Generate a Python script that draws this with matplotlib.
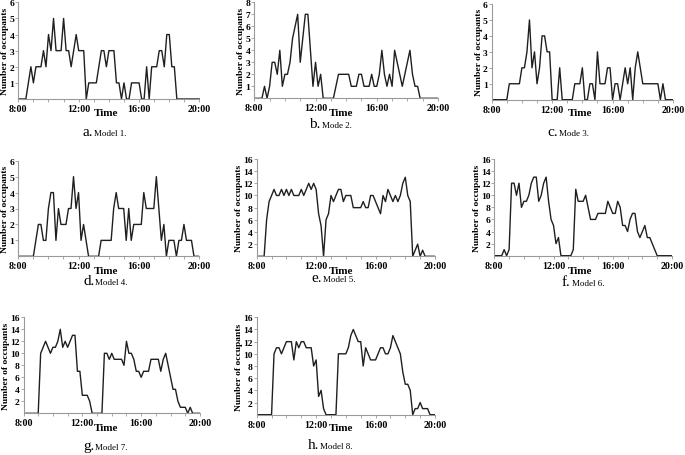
import numpy as np
import matplotlib
matplotlib.use("Agg")
import matplotlib.pyplot as plt

W, H = 685, 456

# occupancy sampled every 10 minutes from 8:00 to 20:00 (73 points)
times = 8 + np.arange(73) / 6

model1 = [0, 0, 0, 0, 1, 2, 1, 2, 2, 2, 3, 2, 4, 3, 5, 3, 3, 3, 5, 3,
          3, 2, 3, 4, 3, 3, 3, 0, 1, 1, 1, 1, 2, 3, 3, 2, 3, 3, 3, 1,
          1, 0, 1, 0, 0, 1, 1, 1, 1, 0, 0, 2, 0, 2, 2, 2, 3, 3, 2, 4,
          4, 2, 2, 0, 0, 0, 0, 0, 0, 0, 0, 0, 0]
model2 = [0, 0, 0, 0, 1, 0, 1, 3, 3, 2, 4, 1, 2, 2, 3, 5, 6, 7, 3, 5,
          7, 7, 4, 1, 3, 1, 2, 0, 0, 0, 0, 0, 1, 2, 2, 2, 2, 2, 1, 1,
          1, 2, 2, 1, 1, 1, 2, 1, 1, 2, 4, 2, 1, 2, 1, 4, 3, 2, 1, 2,
          3, 4, 2, 1, 1, 0, 0, 0, 0, 0, 0, 0, 0]
model3 = [0, 0, 0, 0, 0, 0, 0, 1, 1, 1, 1, 1, 2, 2, 3, 5, 2, 3, 1, 2,
          4, 4, 3, 3, 0, 0, 0, 2, 0, 0, 0, 0, 0, 1, 1, 1, 2, 0, 0, 1,
          1, 0, 3, 1, 1, 1, 2, 2, 0, 1, 1, 0, 1, 2, 1, 2, 0, 2, 3, 2,
          1, 1, 1, 1, 1, 1, 1, 0, 1, 0, 0, 0, 0]
model4 = [0, 0, 0, 0, 0, 0, 0, 1, 2, 2, 1, 1, 3, 4, 4, 1, 3, 2, 2, 2,
          3, 3, 5, 3, 4, 1, 2, 1, 0, 0, 0, 0, 0, 1, 1, 1, 1, 1, 3, 4,
          3, 3, 3, 1, 3, 1, 2, 2, 2, 2, 4, 3, 3, 3, 3, 5, 3, 1, 2, 0,
          1, 1, 1, 0, 1, 1, 2, 1, 1, 1, 0, 0, 0]
model5 = [0, 0, 0, 0, 6, 9, 10, 11, 10, 10, 11, 10, 11, 10, 11, 10, 10, 10, 11, 10,
          11, 12, 11, 12, 11, 7, 5, 0, 6, 7, 10, 9, 10, 11, 11, 9, 10, 10, 10, 8,
          8, 8, 8, 9, 8, 8, 10, 10, 9, 8, 7, 10, 9, 11, 10, 9, 10, 9, 10, 12,
          13, 10, 9, 0, 1, 2, 0, 1, 0, 0, 0, 0, 0]
model6 = [0, 0, 0, 0, 1, 0, 1, 12, 12, 10, 12, 8, 9, 9, 10, 12, 13, 13, 9, 10,
          12, 13, 9, 6, 5, 2, 3, 0, 0, 0, 0, 0, 1, 11, 9, 9, 9, 10, 8, 6,
          6, 6, 7, 7, 7, 7, 9, 8, 7, 7, 9, 8, 5, 5, 4, 6, 7, 7, 4, 3,
          4, 5, 3, 3, 2, 1, 0, 0, 0, 0, 0, 0, 0]
model7 = [0, 0, 0, 0, 0, 0, 0, 10, 11, 12, 11, 10, 11, 11, 12, 14, 11, 12, 11, 12,
          13, 13, 7, 7, 3, 3, 3, 2, 0, 0, 0, 0, 0, 10, 10, 9, 10, 9, 9, 9,
          9, 8, 12, 10, 10, 9, 7, 7, 6, 7, 7, 7, 9, 9, 9, 9, 7, 9, 10, 8,
          6, 4, 4, 2, 1, 1, 1, 0, 1, 0, 0, 0, 0]
model8 = [0, 0, 0, 0, 0, 0, 0, 10, 11, 11, 10, 11, 12, 12, 12, 9, 12, 11, 12, 12,
          11, 11, 11, 8, 9, 3, 4, 1, 0, 0, 0, 0, 0, 10, 10, 10, 10, 11, 13, 14,
          13, 12, 12, 8, 11, 10, 9, 9, 9, 10, 11, 11, 10, 10, 11, 13, 12, 11, 10, 7,
          5, 5, 4, 0, 1, 1, 2, 1, 1, 1, 0, 0, 0]

series = [model1, model2, model3, model4, model5, model6, model7, model8]
letters = ["a", "b", "c", "d", "e", "f", "g", "h"]
names = ["Model 1.", "Mode 2.", "Mode 3.", "Model 4.",
         "Model 5.", "Model 6.", "Model 7.", "Model 8."]
y_max = [6, 8, 6, 6, 16, 16, 16, 16]
y_step = [1, 1, 1, 1, 2, 2, 2, 2]
hour_ticks = list(range(8, 21))
hour_labels = [f"{h}:00" if (h - 8) % 4 == 0 else "" for h in hour_ticks]

# layout in pixels: axes (left, top, right, bottom), "Time" centre, caption split/baseline
boxes = [(18.3, 3.3, 199.5, 100), (254.3, 3.3, 438, 99.3), (491.7, 5, 673, 100.7),
         (18.3, 161.7, 199, 257.3), (256.7, 160, 435, 257.3), (494.3, 160, 672, 256.7),
         (23.5, 318.3, 200, 414.3), (256.7, 318.3, 435, 415.7)]
time_pos = [(106, 114), (341, 114), (580, 114), (106, 271), (341, 271), (580, 271.7),
            (106, 429), (341, 429)]
cap_pos = [(93, 136), (320.7, 128.5), (557.7, 136), (94.3, 285), (322.3, 281.5),
           (570.7, 285.5), (94.3, 450), (319.3, 449.5)]

plt.rcParams["font.family"] = ["Liberation Serif", "DejaVu Serif"]
fig = plt.figure(figsize=(W / 100, H / 100), dpi=100)
axis_grey = "#9a9a9a"

for k in range(8):
    l, t, r, b = boxes[k]
    ax = fig.add_axes([l / W, 1 - b / H, (r - l) / W, (b - t) / H])
    ax.plot(times, series[k], color="#1f1f1f", lw=1.0)
    ax.set_xlim(8, 20)
    ax.set_ylim(0, y_max[k])
    ax.set_xticks(hour_ticks)
    ax.set_xticklabels(hour_labels)
    ax.set_yticks(range(y_step[k], y_max[k] + 1, y_step[k]))
    for side in ["top", "right"]:
        ax.spines[side].set_visible(False)
    for side in ["left", "bottom"]:
        ax.spines[side].set_color(axis_grey)
        ax.spines[side].set_linewidth(0.8)
    ax.tick_params(direction="out", width=0.6, color=axis_grey)
    ax.tick_params(axis="x", labelsize=7.2, length=2.5, pad=1.0)
    ax.tick_params(axis="y", labelsize=6.8, length=2.0, pad=0.8)
    for lbl in ax.get_xticklabels() + ax.get_yticklabels():
        lbl.set_fontweight("bold")
    ax.set_ylabel("Number of occupants", fontsize=6.8, fontweight="bold")
    gap = 9.0 if y_max[k] < 10 else 13.3
    ax.yaxis.set_label_coords(-gap / (r - l), 0.5)

    tx, ty = time_pos[k]
    fig.text(tx / W, 1 - ty / H, "Time", ha="center", va="center",
             fontsize=8, fontweight="bold")
    cx, cy = cap_pos[k]
    fig.text(cx / W, 1 - cy / H, letters[k] + ".", ha="right", va="baseline", fontsize=11)
    fig.text((cx + 1) / W, 1 - cy / H, names[k], ha="left", va="baseline", fontsize=6.5)

fig.savefig("out.png", dpi=100)
